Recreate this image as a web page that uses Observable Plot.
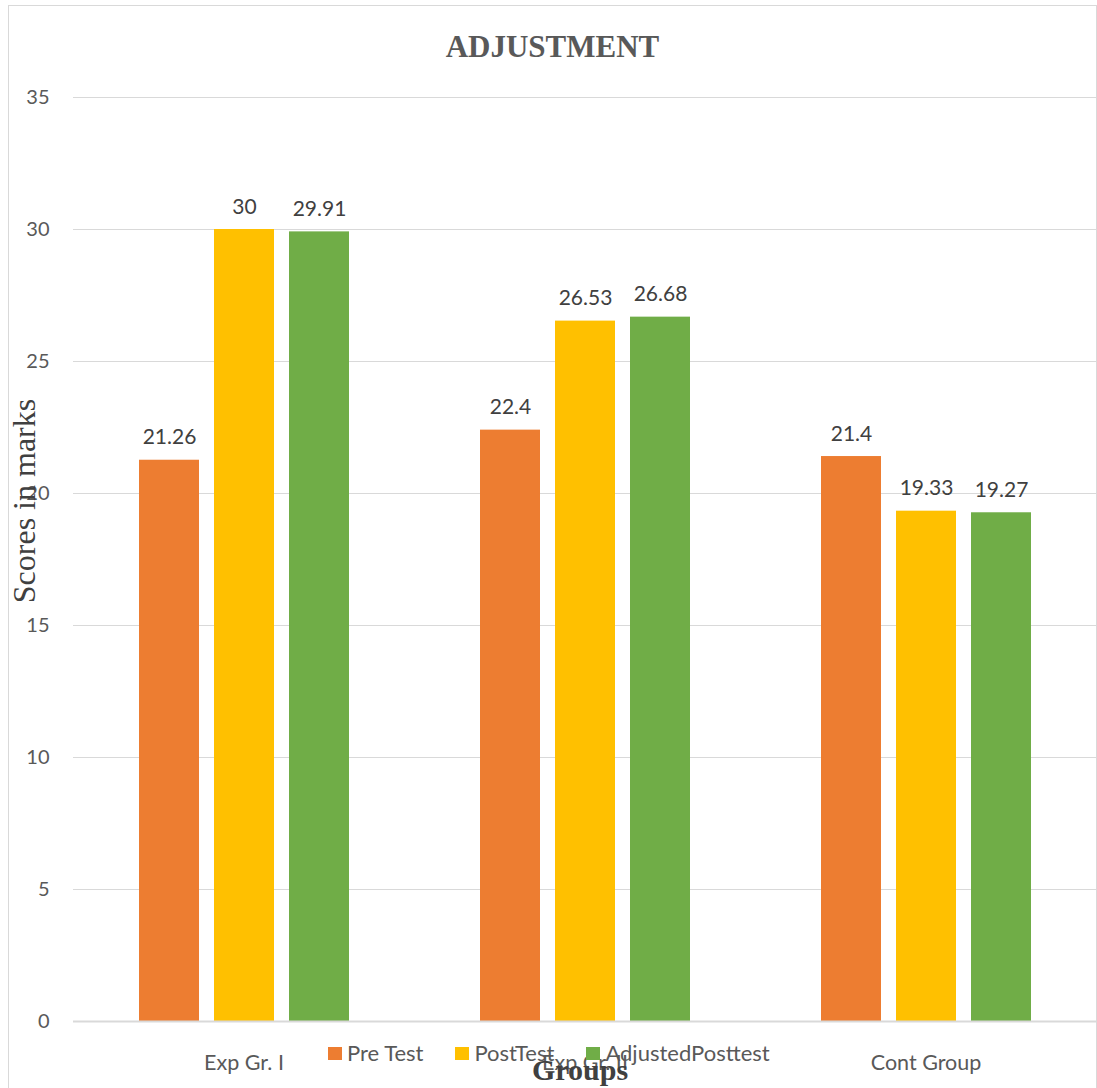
<!DOCTYPE html>
<html>
<head>
<meta charset="utf-8">
<script src="https://cdn.jsdelivr.net/npm/d3@7"></script>
<script src="https://cdn.jsdelivr.net/npm/@observablehq/plot@0.6"></script>
<style>
  body { margin: 0; background: #fff; }
  #chart { position: relative; width: 1097px; height: 1088px; overflow: hidden; background: #fff; font-family: Lato, sans-serif; }
  #frame { position: absolute; left: 8px; top: 5px; width: 1087px; height: 1100px; border: 1.5px solid #d9d9d9; pointer-events: none; }
  #title { position: absolute; left: 8px; right: 0; top: 31px; text-align: center; font: bold 31px/31px "Liberation Serif", serif; color: #595959; }
  #ylabel { position: absolute; left: -126px; top: 483px; width: 300px; height: 36px; transform: rotate(-90deg); text-align: center; font: 32px/36px "Liberation Serif", serif; color: #404040; white-space: nowrap; }
  #xlabel { position: absolute; left: 480px; top: 1055px; width: 200px; text-align: center; font: bold 30px/30px "Liberation Serif", serif; color: #404040; }
  #legend { position: absolute; left: 328px; top: 1041px; display: flex; gap: 32px; font: 22px/24px Lato, sans-serif; color: #595959; white-space: nowrap; }
  #legend .item { display: flex; align-items: center; }
  #legend .sw { width: 14px; height: 13px; margin-right: 5px; }
  #plot { position: absolute; left: 0; top: 0; }
</style>
</head>
<body>
<div id="chart">
  <div id="plot"></div>
  <div id="frame"></div>
  <div id="title">ADJUSTMENT</div>
  <div id="ylabel">Scores in marks</div>
  <div id="legend"></div>
  <div id="xlabel">Groups</div>
</div>
<script>
// Groups on the x axis and the three test series
const groups = ["Exp Gr. I", "Exp Gr. II", "Cont Group"];
const series = ["Pre Test", "PostTest", "AdjustedPosttest"];

// Mean scores per group, one array per series
const preTest = [21.26, 22.4, 21.4];
const postTest = [30, 26.53, 19.33];
const adjustedPosttest = [29.91, 26.68, 19.27];

const colors = ["#ED7D31", "#FFC000", "#70AD47"];
const yTicks = [0, 5, 10, 15, 20, 25, 30, 35];

const seriesValues = [preTest, postTest, adjustedPosttest];
const data = groups.flatMap((g, i) =>
  series.map((s, j) => ({ group: g, series: s, value: seriesValues[j][i] }))
);

const chart = Plot.plot({
  width: 1097,
  height: 1088,
  marginLeft: 72,
  marginRight: 1,
  marginTop: 97,
  marginBottom: 67,
  style: { fontFamily: "Lato, sans-serif", background: "transparent" },
  fx: { domain: groups, padding: 0, label: null },
  x: { domain: series, paddingInner: 0.2, paddingOuter: 0.86, axis: null },
  y: { domain: [0, 35], label: null },
  color: { domain: series, range: colors },
  marks: [
    Plot.gridY(yTicks, { stroke: "#d9d9d9", strokeOpacity: 1, strokeWidth: 1 }),
    Plot.axisY(yTicks, { tickSize: 0, tickPadding: 24, fontSize: 20, fill: "#595959", label: null }),
    Plot.axisFx({ anchor: "bottom", tickSize: 0, tickPadding: 33, fontSize: 21.5, fill: "#595959", label: null }),
    Plot.barY(data, { fx: "group", x: "series", y: "value", fill: "series" }),
    Plot.ruleY([0], { stroke: "#d9d9d9", strokeWidth: 2 }),
    Plot.text(data, {
      fx: "group", x: "series", y: "value",
      text: d => String(d.value),
      dy: -16, lineAnchor: "bottom",
      fontSize: 21, fill: "#404040"
    })
  ]
});
document.getElementById("plot").appendChild(chart);

// Legend row laid over the bottom axis
const legend = document.getElementById("legend");
series.forEach((s, i) => {
  const item = document.createElement("div");
  item.className = "item";
  const sw = document.createElement("span");
  sw.className = "sw";
  sw.style.background = colors[i];
  const label = document.createElement("span");
  label.textContent = s;
  item.appendChild(sw);
  item.appendChild(label);
  legend.appendChild(item);
});
</script>
</body>
</html>
